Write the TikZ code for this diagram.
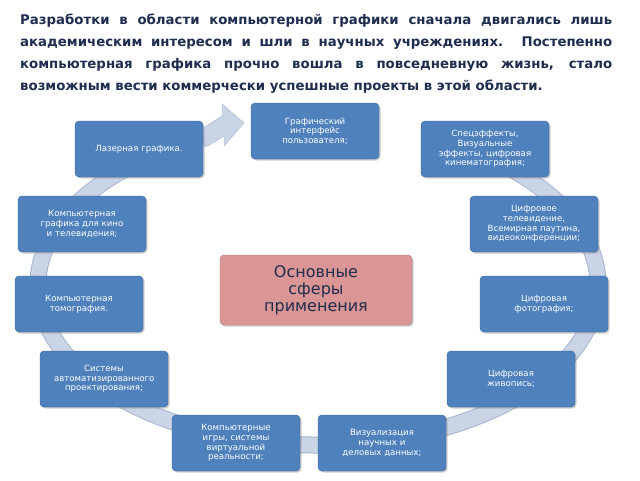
\documentclass[tikz,border=0pt]{standalone}
\usepackage{fontspec}
\setmainfont{DejaVu Sans}
\usetikzlibrary{shadows}
\definecolor{bx}{HTML}{4F81BD}
\definecolor{bxb}{HTML}{3A6598}
\definecolor{ring}{HTML}{CAD4E7}
\definecolor{ringb}{HTML}{A7B5D0}
\definecolor{pink}{HTML}{D99694}
\definecolor{navy}{HTML}{1F2D4F}
\begin{document}
\begin{tikzpicture}[x=1pt,y=-1pt,
 box/.style={draw=bxb,fill=bx,rounded corners=4pt,minimum width=128pt,minimum height=56pt,text width=100pt,align=center,text=white,font=\fontsize{8.6}{9.6}\selectfont,inner sep=2pt,drop shadow={shadow xshift=1.5pt,shadow yshift=-1.5pt,opacity=.4}}]
\useasboundingbox (0,0) rectangle (640,480);
\fill[white] (0,0) rectangle (640,480);
\node[anchor=north west,text width=592pt,align=justify,inner sep=0pt,font=\fontsize{13.3}{22}\selectfont\bfseries,text=navy] (t) at (20,14)
 {Разработки в области компьютерной графики сначала двигались лишь академическим интересом и шли в научных учреждениях. Постепенно компьютерная графика прочно вошла в повседневную жизнь, стало возможным вести коммерчески успешные проекты в этой области.};
\draw[ringb,line width=17pt] (318,285) ++(-66:280 and 160) arc[start angle=-66,end angle=245,x radius=280,y radius=160];
\draw[ring,line width=15pt] (318,285) ++(-66:280 and 160) arc[start angle=-66,end angle=246,x radius=280,y radius=160];
\filldraw[fill=ring,draw=ringb] (200,130) -- (222,116) -- (222,104) -- (244,123) -- (224,146) -- (224,136) -- (206,147) -- cycle;
\node[box] (a1) at (315,131) {Графический интерфейс пользователя;};
\node[box] (a2) at (485,149) {Спецэффекты, Визуальные эффекты, цифровая кинематография;};
\node[box] (a3) at (534,224) {Цифровое телевидение, Всемирная паутина, видеоконференции;};
\node[box] (a4) at (544,304) {Цифровая фотография;};
\node[box] (a5) at (511,379) {Цифровая\\живопись;};
\node[box] (a6) at (382,443) {Визуализация научных и деловых данных;};
\node[box] (a7) at (236,443) {Компьютерные игры, системы виртуальной реальности;};
\node[box] (a8) at (104,379) {Системы автоматизированного проектирования;};
\node[box] (a9) at (79,304) {Компьютерная томография.};
\node[box] (a10) at (82,224) {Компьютерная графика для кино и телевидения;};
\node[box] (a11) at (139,149) {Лазерная графика.};
\node[draw=pink!80!black,fill=pink,rounded corners=4pt,minimum width=192pt,minimum height=70pt,text width=185pt,align=center,text=navy,font=\fontsize{16}{17}\selectfont,drop shadow={shadow xshift=1.5pt,shadow yshift=-1.5pt,opacity=.4}] (c) at (316,290) {Основные\\сферы\\применения};
\end{tikzpicture}
\end{document}
